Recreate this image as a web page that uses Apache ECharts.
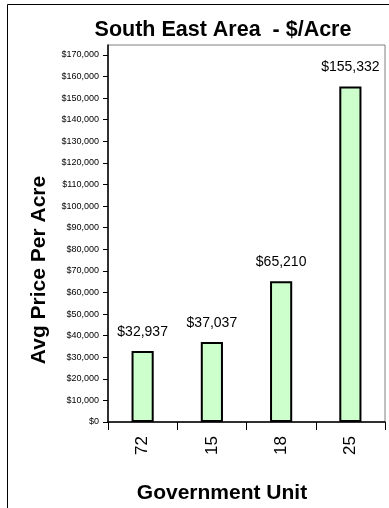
<!DOCTYPE html>
<html>
<head>
<meta charset="utf-8">
<script src="https://cdn.jsdelivr.net/npm/echarts@6/dist/echarts.min.js"></script>
<style>
  html, body { margin: 0; padding: 0; background: #fff; }
  #chart { width: 389px; height: 508px; }
</style>
</head>
<body>
<div id="chart"></div>
<script>
// Government units and their average land price per acre
const units = ['72', '15', '18', '25'];
const avgPrice = [32937, 37037, 65210, 155332];
// Value axis tick marks
const yTicks = [0, 10000, 20000, 30000, 40000, 50000, 60000, 70000, 80000,
  90000, 100000, 110000, 120000, 130000, 140000, 150000, 160000, 170000];

const FONT = '"Liberation Sans", Arial, sans-serif';
const money = v => '$' + String(v).replace(/\B(?=(\d{3})+(?!\d))/g, ',');

const chart = echarts.init(document.getElementById('chart'), null, { renderer: 'canvas' });

chart.setOption({
  animation: false,
  backgroundColor: '#ffffff',
  title: {
    text: 'South East Area  - $/Acre',
    left: 218,
    textAlign: 'center',
    top: 14,
    textStyle: { fontFamily: FONT, fontSize: 21.5, fontWeight: 'bold', color: '#000' }
  },
  grid: {
    left: 108, right: 4, top: 45, bottom: 86,
    show: true, borderColor: '#808080', borderWidth: 1,
    outerBoundsMode: 'none'
  },
  xAxis: {
    type: 'category',
    data: units,
    axisLine: { lineStyle: { color: '#000', width: 1.5 } },
    axisTick: { show: true, length: 8, interval: 0, lineStyle: { color: '#000', width: 1 } },
    axisLabel: { rotate: 90, margin: 14, fontFamily: FONT, fontSize: 17, color: '#000' }
  },
  yAxis: {
    type: 'value',
    min: 0,
    max: 174600,
    splitLine: { show: false },
    axisLine: { show: true, lineStyle: { color: '#000', width: 1.5 } },
    axisTick: { show: true, length: 5, customValues: yTicks, lineStyle: { color: '#000', width: 1 } },
    axisLabel: {
      customValues: yTicks,
      margin: 9,
      fontFamily: FONT, fontSize: 9, color: '#000',
      formatter: money
    }
  },
  series: [{
    type: 'bar',
    data: avgPrice,
    barWidth: '32%',
    itemStyle: { color: '#CCFFCC', borderColor: '#000', borderWidth: 2 },
    label: {
      show: true, position: 'top', distance: 12,
      fontFamily: FONT, fontSize: 14, color: '#000',
      formatter: p => money(p.value)
    }
  }],
  graphic: [
    {
      type: 'polyline',
      shape: { points: [[7.5, 520], [7.5, 4.5], [400, 4.5]] },
      style: { stroke: '#000', lineWidth: 1, fill: null }
    },
    {
      type: 'text',
      x: 39, y: 270,
      rotation: Math.PI / 2,
      style: {
        text: 'Avg Price Per Acre',
        font: 'bold 21px ' + FONT,
        fill: '#000', align: 'center', verticalAlign: 'middle'
      }
    },
    {
      type: 'text',
      x: 222, y: 493,
      style: {
        text: 'Government Unit',
        font: 'bold 21px ' + FONT,
        fill: '#000', align: 'center', verticalAlign: 'middle'
      }
    }
  ]
});
</script>
</body>
</html>
